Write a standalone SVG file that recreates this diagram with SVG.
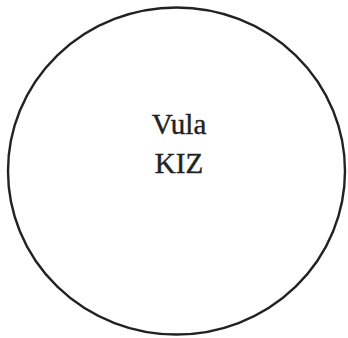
<svg xmlns="http://www.w3.org/2000/svg" width="348" height="338" viewBox="0 0 348 338">
<style>
.lbl{font-family:"Liberation Serif","Times New Roman",serif;font-size:29px;fill:#222;stroke:#222;stroke-width:0.4;text-anchor:middle}
</style>
<rect width="348" height="338" fill="#fff"/>
<g id="node-vula-kiz">
<ellipse cx="176.5" cy="171" rx="168.5" ry="163.5" fill="#fff" stroke="#222" stroke-width="2.4"/>
<text class="lbl" x="179" y="134">Vula</text>
<text class="lbl" x="179" y="173">KIZ</text>
</g>
<g id="connectors"></g>
</svg>
